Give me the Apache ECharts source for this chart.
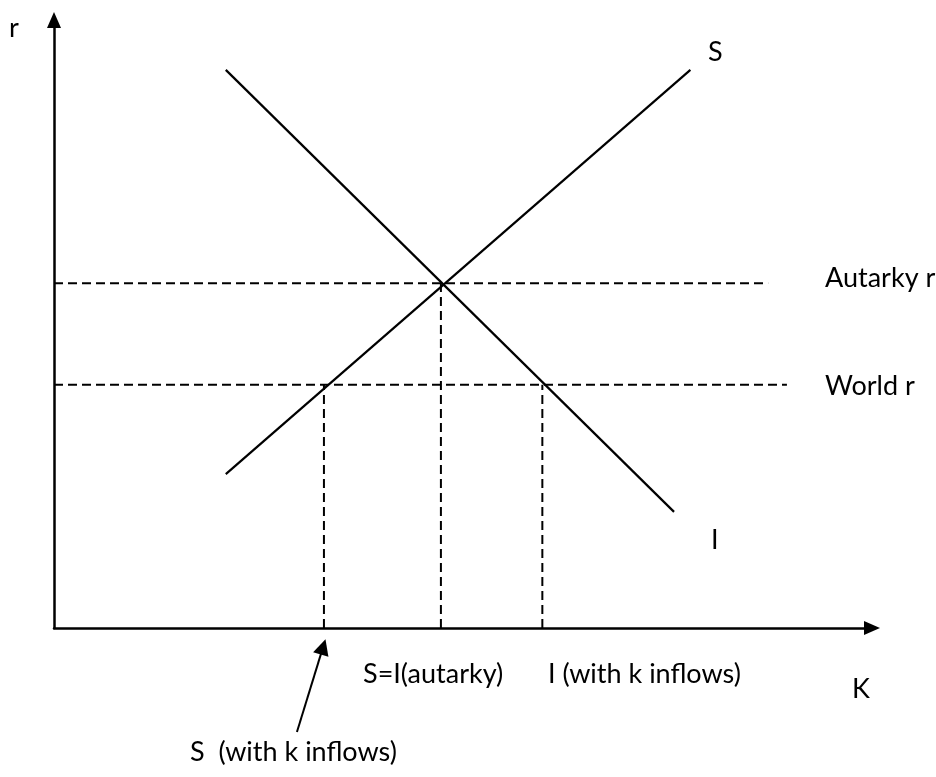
<!DOCTYPE html>
<html>
<head>
<meta charset="utf-8">
<script src="https://cdn.jsdelivr.net/npm/echarts@6/dist/echarts.min.js"></script>
<style>html,body{margin:0;padding:0;background:#fff}#c{width:936px;height:777px}</style>
</head>
<body>
<div id="c"></div>
<script>
// Curves in axis units (K on x, r on y; 0..100)
const investmentCurve = [[21.0, 91.8], [75.8, 19.1]];   // I
const savingCurve = [[21.0, 25.3], [77.8, 91.8]];       // S
const autarkyR = 56.7;
const worldR = 40.0;
const autarkyK = 47.3;        // S = I (autarky)
const savingWorldK = 33.0;    // S (with k inflows)
const investWorldK = 59.7;    // I (with k inflows)
const autarkyLineEnd = 87.3;
const worldLineEnd = 89.6;
const annotationArrow = [[29.7, -17.1], [32.9, -3.1]];

const labels = [
  {text: 'r', x: 9, y: 15},
  {text: 'S', x: 708, y: 39},
  {text: 'Autarky r', x: 825, y: 265},
  {text: 'World r', x: 825, y: 373},
  {text: 'I', x: 711, y: 527},
  {text: 'K', x: 852, y: 676},
  {text: 'S=I(autarky)', x: 363, y: 661},
  {text: 'I (with k inflows)', x: 548, y: 661},
  {text: 'S  (with k inflows)', x: 190, y: 739}
];

const FONT = 'Lato, "Open Sans", sans-serif';
const solid = {color: '#000', width: 2.2};
const dashed = {color: '#000', width: 2, type: [9, 5]};

function lineSeries(data, style) {
  return {type: 'line', data: data, symbol: 'none', lineStyle: style, silent: true, animation: false};
}

const chart = echarts.init(document.getElementById('c'), null, {renderer: 'canvas'});
chart.setOption({
  backgroundColor: '#fff',
  animation: false,
  grid: {left: 54, right: 64, top: 20, bottom: 149},
  xAxis: {
    type: 'value', min: 0, max: 100,
    axisLine: {show: true, onZero: false, symbol: ['none', 'triangle'], symbolSize: [14, 16], lineStyle: {color: '#000', width: 2.5}},
    axisTick: {show: false}, axisLabel: {show: false}, splitLine: {show: false}
  },
  yAxis: {
    type: 'value', min: 0, max: 100,
    axisLine: {show: true, onZero: false, symbol: ['none', 'triangle'], symbolSize: [14, 16], lineStyle: {color: '#000', width: 2.5}},
    axisTick: {show: false}, axisLabel: {show: false}, splitLine: {show: false}
  },
  series: [
    lineSeries([[0, autarkyR], [autarkyLineEnd, autarkyR]], dashed),
    lineSeries([[0, worldR], [worldLineEnd, worldR]], dashed),
    lineSeries([[savingWorldK, 0], [savingWorldK, worldR]], dashed),
    lineSeries([[autarkyK, 0], [autarkyK, autarkyR]], dashed),
    lineSeries([[investWorldK, 0], [investWorldK, worldR]], dashed),
    lineSeries(investmentCurve, solid),
    lineSeries(savingCurve, solid),
    {
      type: 'lines', coordinateSystem: 'cartesian2d', clip: false, silent: true,
      symbol: ['none', 'triangle'], symbolSize: [10, 16],
      lineStyle: {color: '#000', width: 2, opacity: 1},
      data: [{coords: annotationArrow}]
    }
  ],
  graphic: labels.map(l => ({
    type: 'text', left: l.x, top: l.y, silent: true,
    style: {text: l.text, fill: '#000', font: '27px ' + FONT}
  }))
});
</script>
</body>
</html>
